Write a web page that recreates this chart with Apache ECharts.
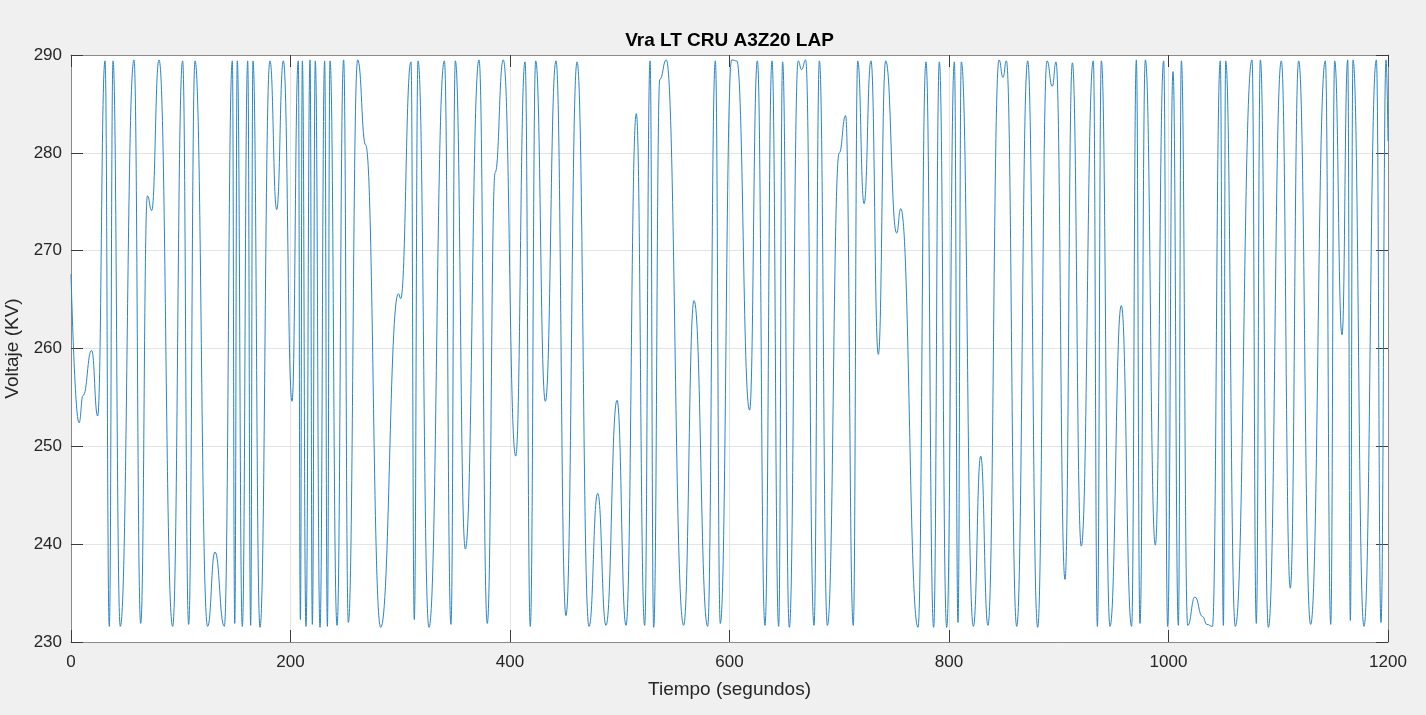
<!DOCTYPE html>
<html>
<head>
<meta charset="utf-8">
<script src="https://cdn.jsdelivr.net/npm/echarts@6/dist/echarts.min.js"></script>
<style>
html,body{margin:0;padding:0;background:#f0f0f0;}
#chart{width:1426px;height:715px;}
</style>
</head>
<body>
<div id="chart"></div>
<script>
var chartTitle = 'Vra LT CRU A3Z20 LAP';
var xName = 'Tiempo (segundos)';
var yName = 'Voltaje (KV)';
var xTicks = [0, 200, 400, 600, 800, 1000, 1200];
var yTicks = [230, 240, 250, 260, 270, 280, 290];

var times = [
0, 7.3, 11, 18.8, 24.3, 31.0, 34.9, 38.3, 44.9, 57.4, 63.5, 69.6, 73.5, 80.2, 92.6, 101.7, 107.2, 113.0, 124.5, 131.2, 139.7,
147.0, 149.2, 151.5, 156.1, 161.0, 163.7, 165.8, 172.2, 181.3, 187.4, 193.5, 201.4, 207.1, 209.0, 210.8, 214.1, 217.8, 219.9,
222.6, 226.9, 231.1, 233.6, 236.0, 242.4, 248.4, 252.7, 261.2, 268.5, 282.2, 298.3, 300.4, 309.8, 312.8, 316.2, 326.2,
340.2, 346.2, 350.2, 359.3, 371.8, 379.3, 386.5, 393.9, 405.2, 413.7, 418.5, 423.4, 432.2, 441.9, 451.0, 461.1, 472.0,
479.9, 487.5, 497.5, 505.7, 515.1, 522.7, 527.6, 530.9, 536.5, 542.4, 558.2, 567.7, 580.1, 587.1, 591.6, 602.0, 606.6,
618.3, 625.4, 632.3, 638.7, 644.8, 648.4, 654.5, 662.6, 665.7, 669.4, 677.0, 681.9, 689.2, 700.0, 705.8, 712.8, 716.8,
722.6, 728.9, 735.6, 742.3, 752.3, 756.0, 771.8, 779.0, 786.0, 791.2, 797.9, 804.9, 808.2, 811.2, 822.2, 828.9, 835.5,
845.6, 849.2, 852.3, 861.7, 871.7, 880.8, 889.3, 894.1, 897.5, 905.7, 912.4, 920.5, 931.5, 935.2, 938.8, 946.7, 957.0,
966.4, 970.7, 974.0, 978.9, 988.0, 995.6, 999.2, 1004.1, 1009.0, 1011.7, 1017.5, 1024.1, 1031.0, 1035.0, 1040.0, 1047.2,
1050.0, 1052.1, 1060.9, 1076.1, 1080.0, 1083.7, 1091.0, 1102.8, 1111.0, 1118.6, 1129.5, 1142.9, 1147.8, 1151.4, 1158.1,
1163.3, 1165.7, 1168.1, 1178.1, 1189.4, 1193.6, 1198.2, 1200
];
var volts = [
267.6, 252.4, 255.2, 259.8, 253.1, 289.4, 231.6, 289.4, 231.6, 289.5, 231.9, 275.6, 274.1, 289.5, 231.6, 289.4, 231.8, 289.4, 231.6, 239.2, 231.6,
289.4, 231.9, 289.4, 231.6, 289.4, 231.7, 289.4, 231.5, 289.4, 274.2, 289.4, 254.6, 289.4, 232.3, 289.4, 231.6, 289.5, 231.8,
289.4, 231.5, 289.4, 231.6, 289.4, 231.7, 289.5, 232.0, 289.5, 280.8, 231.5, 265.6, 265.1, 289.3, 232.3, 289.4, 231.5,
289.4, 231.8, 289.4, 239.5, 289.5, 231.9, 278.0, 289.5, 249.0, 289.3, 231.6, 289.4, 254.6, 289.4, 232.7, 289.3, 231.6,
245.2, 231.7, 254.7, 231.7, 284.0, 231.7, 289.4, 231.5, 287.5, 289.5, 231.7, 264.9, 231.6, 289.4, 231.9, 289.5, 289.4,
253.7, 289.4, 231.7, 289.4, 231.6, 289.3, 231.5, 289.4, 288.5, 289.5, 231.7, 289.4, 231.7, 280.0, 283.8, 231.7, 289.4,
274.8, 289.4, 259.4, 289.4, 271.8, 274.3, 231.5, 289.3, 231.5, 289.3, 231.5, 289.3, 232.0, 289.3, 231.6, 249.0, 231.7,
289.5, 287.7, 289.4, 231.6, 289.4, 231.5, 289.4, 286.8, 289.3, 236.4, 289.2, 239.8, 289.4, 231.6, 289.4, 231.6, 264.4,
231.6, 289.5, 231.9, 289.5, 239.9, 289.4, 231.6, 288.3, 231.7, 289.4, 231.7, 234.6, 232.6, 231.8, 231.6, 289.4,
231.7, 289.4, 231.6, 289.5, 231.9, 289.5, 231.5, 289.4, 235.5, 289.4, 231.8, 289.4, 231.8, 289.4, 261.4,
289.5, 232.2, 289.5, 231.6, 289.5, 232.0, 289.5, 281.2
];

var seriesData = times.map(function (t, i) { return [t, volts[i]]; });

var font = "'Liberation Sans', Arial, Helvetica, sans-serif";
var frameColor = '#8a8a8a';
var tickColor = '#3c3c3c';
var gridColor = '#e4e4e4';
var textColor = '#262626';

var chart = echarts.init(document.getElementById('chart'), null, {renderer: 'canvas'});
chart.setOption({
  animation: false,
  backgroundColor: '#f0f0f0',
  textStyle: {fontFamily: font},
  title: {
    text: chartTitle,
    left: 729.5,
    top: 31,
    padding: 0,
    textAlign: 'center',
    textStyle: {fontFamily: font, fontSize: 19, fontWeight: 'bold', color: '#000'}
  },
  grid: {
    left: 71, right: 38, top: 55, bottom: 73,
    containLabel: false,
    outerBoundsMode: 'none',
    show: true, backgroundColor: '#ffffff', borderWidth: 0
  },
  xAxis: [{
    type: 'value', min: xTicks[0], max: xTicks[xTicks.length - 1], interval: 200,
    position: 'bottom',
    name: xName, nameLocation: 'middle', nameGap: 38,
    nameTextStyle: {fontFamily: font, fontSize: 19, color: textColor},
    axisLine: {show: true, onZero: false, lineStyle: {color: frameColor, width: 1}},
    axisTick: {show: true, inside: true, length: 12, lineStyle: {color: tickColor, width: 1}},
    axisLabel: {fontFamily: font, fontSize: 17, color: textColor, margin: 12,
      formatter: function (v) { return String(v); }},
    splitLine: {show: true, showMinLine: false, showMaxLine: false, lineStyle: {color: gridColor, width: 1}}
  }, {
    type: 'value', min: xTicks[0], max: xTicks[xTicks.length - 1], interval: 200,
    position: 'top',
    axisLine: {show: true, onZero: false, lineStyle: {color: frameColor, width: 1}},
    axisTick: {show: true, inside: true, length: 12, lineStyle: {color: tickColor, width: 1}},
    axisLabel: {show: false},
    splitLine: {show: false}
  }],
  yAxis: [{
    type: 'value', min: yTicks[0], max: yTicks[yTicks.length - 1], interval: 10,
    position: 'left',
    name: yName, nameLocation: 'middle', nameGap: 40, nameRotate: 90,
    nameTextStyle: {fontFamily: font, fontSize: 19, color: textColor},
    axisLine: {show: true, onZero: false, lineStyle: {color: frameColor, width: 1}},
    axisTick: {show: true, inside: true, length: 12, lineStyle: {color: tickColor, width: 1}},
    axisLabel: {fontFamily: font, fontSize: 17, color: textColor, margin: 9,
      formatter: function (v) { return String(v); }},
    splitLine: {show: true, showMinLine: false, showMaxLine: false, lineStyle: {color: gridColor, width: 1}}
  }, {
    type: 'value', min: yTicks[0], max: yTicks[yTicks.length - 1], interval: 10,
    position: 'right',
    axisLine: {show: true, onZero: false, lineStyle: {color: frameColor, width: 1}},
    axisTick: {show: true, inside: true, length: 12, lineStyle: {color: tickColor, width: 1}},
    axisLabel: {show: false},
    splitLine: {show: false}
  }],
  series: [{
    type: 'line',
    xAxisIndex: 0,
    yAxisIndex: 0,
    data: seriesData,
    showSymbol: false,
    smooth: 0.5,
    smoothMonotone: 'x',
    clip: true,
    lineStyle: {color: '#2a86c4', width: 1}
  }]
});
</script>
</body>
</html>
